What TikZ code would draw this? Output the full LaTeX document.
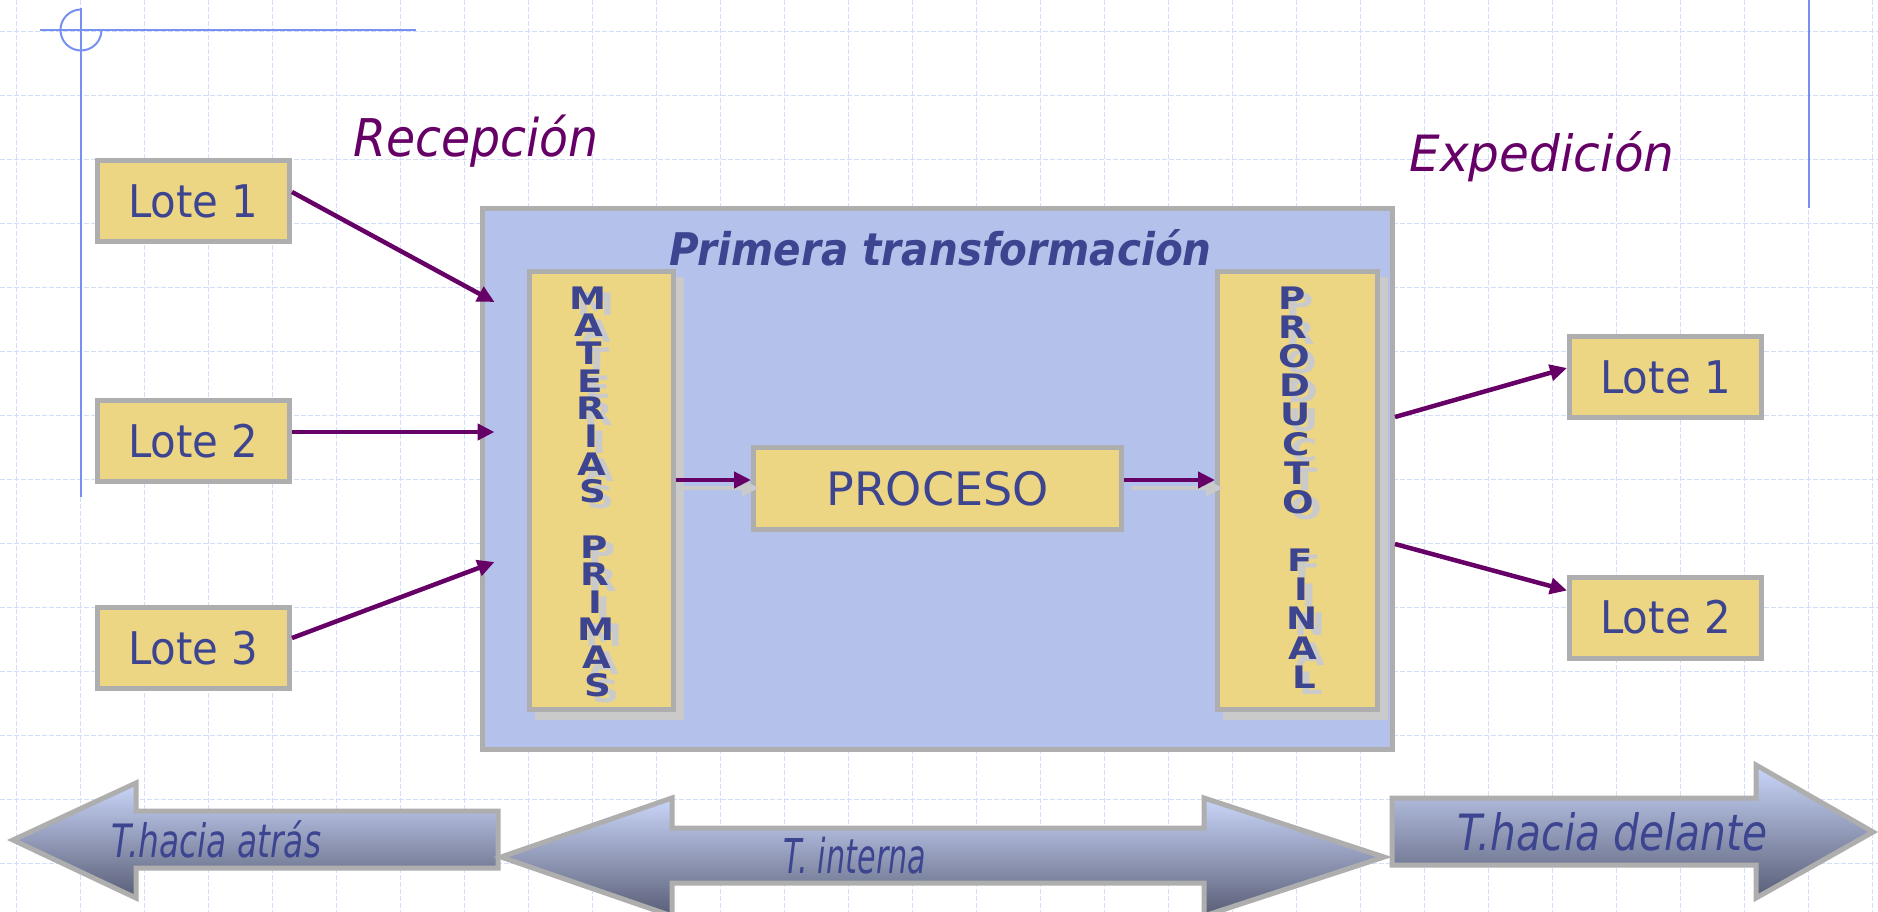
\documentclass[tikz,border=0pt]{standalone}
\usepackage{fontspec}
\setmainfont{DejaVu Sans}
\usetikzlibrary{arrows.meta,calc}
\definecolor{gridc}{HTML}{D5DEF8}
\definecolor{deco}{HTML}{7791F2}
\definecolor{purp}{HTML}{660066}
\definecolor{txtb}{HTML}{3D4590}
\definecolor{yel}{HTML}{EDD683}
\definecolor{bgray}{HTML}{AEAEAE}
\definecolor{shad}{HTML}{CACACA}
\definecolor{mainfill}{HTML}{B4C2EB}
\definecolor{arrtop}{HTML}{CAD6FA}
\definecolor{arrbot}{HTML}{595E76}
\newcommand{\shletter}[1]{\scalebox{1.2}[1]{\rlap{\hspace{6.5pt}\raisebox{-6pt}[0pt][0pt]{\textcolor{shad}{#1}}}#1}}
\begin{document}
\begin{tikzpicture}[x=1pt,y=-1pt,
  gridline/.style={draw=gridc, line width=1pt, dash pattern=on 5pt off 2pt},
  decoline/.style={draw=deco, line width=2pt},
  lote/.style={draw=bgray, line width=5pt, fill=yel, minimum width=192pt, minimum height=81pt, inner sep=0pt, text=txtb, font=\fontsize{45}{47}\selectfont},
  colbox/.style={draw=bgray, line width=5pt, fill=yel, minimum height=438pt, inner sep=0pt},
  mainbox/.style={draw=bgray, line width=5pt, fill=mainfill, minimum width=910pt, minimum height=541pt, inner sep=0pt},
  conn/.style={draw=purp, line width=4.5pt, -{Triangle[length=17pt,width=16pt]}},
  connshadow/.style={draw=shad, line width=4.5pt, -{Triangle[length=17pt,width=16pt]}},
  letter/.style={text=txtb, inner sep=0pt, font=\fontsize{31}{33}\selectfont\bfseries},
  bigarrow/.style={draw=bgray, line width=5pt, top color=arrtop, bottom color=arrbot, line join=miter},
  heading/.style={text=purp, inner sep=0pt, anchor=base, font=\fontsize{52}{54}\selectfont\itshape},
  arrowtext/.style={text=txtb, inner sep=0pt, anchor=base, font=\itshape}
]
\useasboundingbox (0,0) rectangle (1878,912);
\fill[white] (0,0) rectangle (1878,912);
% grid
\foreach \i in {0,...,29} \draw[gridline] ({16.7+64*\i},0) -- ({16.7+64*\i},912);
\foreach \j in {0,...,13} \draw[gridline] (0,{31.7+64*\j}) -- (1878,{31.7+64*\j});
% decoration lines
\draw[decoline] (40,30) -- (416,30);
\draw[decoline] (81,8) -- (81,497);
\draw[decoline] (81,9.5) arc[start angle=90, end angle=360, radius=20.5pt];
\draw[decoline] (1809,0) -- (1809,208);
% headings
\node[heading] (rec) at (476,157) {\scalebox{0.91}[1]{Recepción}};
\node[heading, font=\fontsize{50}{52}\selectfont\itshape] (exp) at (1542,172) {\scalebox{0.97}[1]{Expedición}};
% main box
\node[mainbox] (M) at (937.5,479) {};
\node[text=txtb, inner sep=0pt, anchor=base, font=\fontsize{45}{48}\selectfont\bfseries\itshape] (pt) at (940.5,265) {\scalebox{0.9}[1]{Primera transformación}};
% shadows of column boxes
\fill[shad] (535,277) rectangle (684,720);
\fill[shad] (1223,277) rectangle (1388,720);
\node[colbox, minimum width=144pt] (MP) at (601.5,490.5) {};
\node[colbox, minimum width=160pt] (PF) at (1297.5,490.5) {};
\node[lote, minimum width=368pt, minimum height=82pt, font=\fontsize{46}{48}\selectfont] (PR) at (937.5,488.5) {PROCESO};
% vertical letters
\foreach \c [count=\i from 0] in {M,A,T,E,R,I,A,S,{},P,R,I,M,A,S}
  \node[letter] (mp\i) at ({588+0.7*\i},{298+27.64*\i}) {\shletter{\c}};
\foreach \c [count=\i from 0] in {P,R,O,D,U,C,T,O,{},F,I,N,A,L}
  \node[letter] (pf\i) at ({1292+0.92*\i},{298+29.15*\i}) {\shletter{\c}};
% lote boxes
\node[lote] (L1) at (193.5,201) {\scalebox{0.93}[1]{Lote 1}};
\node[lote] (L2) at (193.5,441) {\scalebox{0.93}[1]{Lote 2}};
\node[lote] (L3) at (193.5,648) {\scalebox{0.93}[1]{Lote 3}};
\node[lote] (R1) at (1665.5,377) {\scalebox{0.93}[1]{Lote 1}};
\node[lote] (R2) at (1665.5,617.5) {\scalebox{0.93}[1]{Lote 2}};
% connectors
\draw[conn] ($(L1.east)+(0,-9)$) -- ($(M.west)+(14.5,-177)$);
\draw[conn] ($(L2.east)+(0,-9)$) -- ($(M.west)+(14.5,-47)$);
\draw[conn] ($(L3.east)+(0,-10)$) -- ($(M.west)+(14.5,83)$);
\draw[connshadow] ($(MP.east)+(8,-2.5)$) -- ($(PR.west)+(8,-0.5)$);
\draw[connshadow] ($(PR.east)+(8,-0.5)$) -- ($(PF.west)+(8,-2.5)$);
\draw[conn] ($(MP.east)+(0,-10.5)$) -- ($(PR.west)+(0,-8.5)$);
\draw[conn] ($(PR.east)+(0,-8.5)$) -- ($(PF.west)+(0,-10.5)$);
\draw[conn] ($(M.east)+(0,-62)$) -- ($(R1.west)+(0,-9)$);
\draw[conn] ($(M.east)+(0,65)$) -- ($(R2.west)+(0,-27)$);
% bottom arrows
\path[bigarrow] (13,840) -- (136,783) -- (136,811) -- (498,811) -- (498,868) -- (136,868) -- (136,898) -- cycle;
\path[bigarrow] (501,857) -- (672,798) -- (672,828) -- (1204,828) -- (1204,798) -- (1384,857) -- (1204,916) -- (1204,883) -- (672,883) -- (672,916) -- cycle;
\path[bigarrow] (1392,798) -- (1756,798) -- (1756,765) -- (1873,832) -- (1756,898) -- (1756,865) -- (1392,865) -- cycle;
\node[arrowtext, font=\fontsize{46}{48}\selectfont\itshape] (ta) at (216.5,857) {\scalebox{0.715}[1]{T.hacia atrás}};
\node[arrowtext, font=\fontsize{48}{50}\selectfont\itshape] (ti) at (855,873) {\scalebox{0.63}[1]{T. interna}};
\node[arrowtext, font=\fontsize{50}{52}\selectfont\itshape] (td) at (1612.5,850) {\scalebox{0.815}[1]{T.hacia delante}};
\end{tikzpicture}
\end{document}
